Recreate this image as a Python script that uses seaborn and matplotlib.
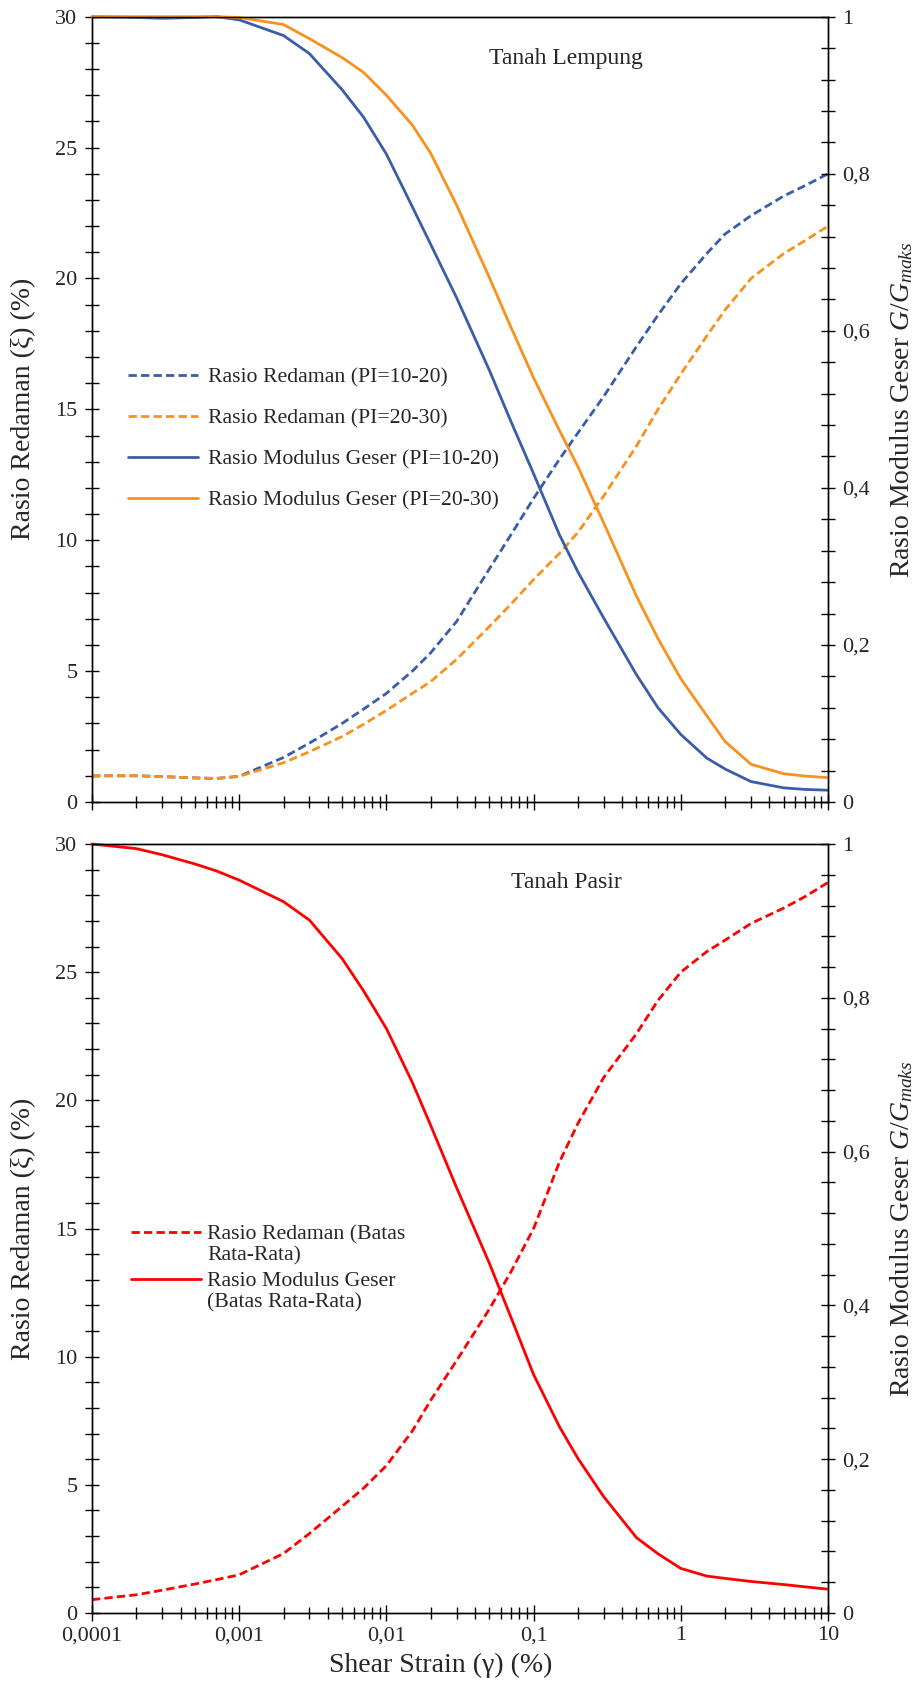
import numpy as np
import pandas as pd
import matplotlib
matplotlib.use("Agg")
import matplotlib.pyplot as plt
import seaborn as sns
from matplotlib.ticker import MultipleLocator, LogLocator, NullFormatter, FuncFormatter, FixedLocator
from matplotlib.legend_handler import HandlerLine2D

# ---------------- data ----------------
strain = [0.0001, 0.0002, 0.0003, 0.0005, 0.0007, 0.001, 0.002, 0.003, 0.005, 0.007,
          0.01, 0.015, 0.02, 0.03, 0.05, 0.07, 0.1, 0.15, 0.2, 0.3,
          0.5, 0.7, 1, 1.5, 2, 3, 5, 7, 10]

# Tanah Lempung (clay)
clay_damping_pi10_20 = [1.0, 1.0, 0.97, 0.92, 0.9, 0.98, 1.7, 2.25, 3.0, 3.55,
                        4.15, 5.0, 5.7, 6.9, 8.9, 10.2, 11.6, 13.1, 14.1, 15.5,
                        17.4, 18.6, 19.8, 20.95, 21.7, 22.4, 23.15, 23.55, 24.0]
clay_damping_pi20_30 = [1.0, 1.0, 0.97, 0.92, 0.9, 0.98, 1.5, 1.92, 2.5, 2.97,
                        3.5, 4.15, 4.6, 5.45, 6.7, 7.55, 8.5, 9.5, 10.3, 11.7,
                        13.6, 15.0, 16.35, 17.8, 18.8, 20.0, 20.95, 21.45, 22.0]
clay_modulus_pi10_20 = [1.0, 0.999, 0.998, 0.999, 1.0, 0.996, 0.976, 0.953, 0.907, 0.872,
                        0.825, 0.758, 0.71, 0.642, 0.55, 0.485, 0.418, 0.34, 0.293, 0.234,
                        0.162, 0.12, 0.086, 0.056, 0.042, 0.026, 0.018, 0.016, 0.015]
clay_modulus_pi20_30 = [1.0, 1.0, 1.0, 1.0, 1.0, 0.999, 0.99, 0.972, 0.948, 0.929,
                        0.90, 0.862, 0.826, 0.76, 0.668, 0.605, 0.54, 0.473, 0.427, 0.355,
                        0.262, 0.208, 0.157, 0.11, 0.077, 0.048, 0.036, 0.033, 0.031]

# Tanah Pasir (sand)
sand_damping_avg = [0.52, 0.71, 0.89, 1.13, 1.3, 1.49, 2.32, 3.1, 4.16, 4.87,
                    5.75, 7.1, 8.3, 9.85, 11.85, 13.3, 15.0, 17.6, 19.1, 20.9,
                    22.6, 23.9, 25.0, 25.8, 26.25, 26.9, 27.5, 27.95, 28.5]
sand_modulus_avg = [1.0, 0.994, 0.986, 0.974, 0.965, 0.953, 0.925, 0.901, 0.851, 0.809,
                    0.76, 0.69, 0.634, 0.553, 0.455, 0.385, 0.31, 0.242, 0.201, 0.151,
                    0.098, 0.077, 0.058, 0.048, 0.045, 0.041, 0.037, 0.034, 0.031]

x_tick_values = [0.0001, 0.001, 0.01, 0.1, 1, 10]

clay = pd.DataFrame({"strain": strain,
                     "d1": clay_damping_pi10_20, "d2": clay_damping_pi20_30,
                     "g1": clay_modulus_pi10_20, "g2": clay_modulus_pi20_30})
sand = pd.DataFrame({"strain": strain, "d": sand_damping_avg, "g": sand_modulus_avg})

# ---------------- style ----------------
sns.set_style("ticks")
plt.rcParams['font.family'] = ['Liberation Serif', 'DejaVu Serif']
plt.rcParams['mathtext.fontset'] = 'custom'
plt.rcParams['mathtext.rm'] = 'Liberation Serif'
plt.rcParams['mathtext.it'] = 'Liberation Serif:italic'
plt.rcParams['axes.edgecolor'] = 'black'
plt.rcParams['axes.linewidth'] = 1.0

BLUE = "#3A5DA8"
ORANGE = "#F8911E"
RED = "#FF0000"
LW = 2.0
DASH = (0, (3, 1.5))
LEG_FS = 15.7

fig = plt.figure(figsize=(9.22, 16.88), dpi=100)
L, W = 92 / 922, 736 / 922
ax1 = fig.add_axes([L, 1 - 802 / 1688, W, (802 - 16.7) / 1688])
ax2 = fig.add_axes([L, 1 - 1613 / 1688, W, 769 / 1688])

comma = FuncFormatter(lambda v, _: ('%g' % round(v, 6)).replace('.', ','))


def style_axes(ax, axr, show_xlabels):
    ax.set_xscale('log')
    ax.set_xlim(1e-4, 10)
    ax.set_ylim(0, 30)
    axr.set_ylim(0, 1)
    ax.xaxis.set_major_locator(FixedLocator(x_tick_values))
    ax.xaxis.set_minor_locator(LogLocator(base=10, subs=np.arange(2, 10), numticks=100))
    ax.xaxis.set_minor_formatter(NullFormatter())
    ax.xaxis.set_major_formatter(comma)
    ax.yaxis.set_major_locator(MultipleLocator(5))
    ax.yaxis.set_minor_locator(MultipleLocator(1))
    ax.yaxis.set_major_formatter(comma)
    axr.yaxis.set_major_locator(MultipleLocator(0.2))
    axr.yaxis.set_minor_locator(MultipleLocator(0.04))
    axr.yaxis.set_major_formatter(comma)
    ax.tick_params(axis='x', which='major', direction='inout', length=11, width=1,
                   color='black', labelsize=16, pad=4, bottom=True, top=False,
                   labelbottom=show_xlabels)
    ax.tick_params(axis='x', which='minor', direction='inout', length=8, width=1,
                   color='black', bottom=True, top=False)
    ax.tick_params(axis='y', which='both', direction='inout', length=10, width=1,
                   color='black', labelsize=16, pad=5.5, left=True, right=False)
    axr.tick_params(axis='y', which='both', direction='inout', length=10, width=1,
                    color='black', labelsize=16, pad=5.5, right=True, left=False)
    for sp in list(ax.spines.values()) + list(axr.spines.values()):
        sp.set_visible(True)
        sp.set_color('black')
    ax.set_ylabel("Rasio Redaman (ξ) (%)", fontsize=20)
    ax.yaxis.set_label_coords(-0.076, 0.5)
    axr.set_ylabel("Rasio Modulus Geser $G/G_{maks}$", fontsize=20)
    axr.yaxis.set_label_coords(1.0815, 0.5)


def draw(ax, df, col, color, ls):
    sns.lineplot(data=df, x="strain", y=col, ax=ax, color=color, linewidth=LW,
                 linestyle=ls, errorbar=None, legend=False, clip_on=False)
    return ax.lines[-1]


class TopLineHandler(HandlerLine2D):
    def create_artists(self, legend, orig_handle, xdescent, ydescent, width, height,
                       fontsize, trans):
        return super().create_artists(legend, orig_handle, xdescent,
                                      ydescent - 1.15 * fontsize, width, height,
                                      fontsize, trans)


# ---------------- top panel: Tanah Lempung ----------------
ax1r = ax1.twinx()
h1 = draw(ax1, clay, "d1", BLUE, DASH)
h2 = draw(ax1, clay, "d2", ORANGE, DASH)
h3 = draw(ax1r, clay, "g1", BLUE, '-')
h4 = draw(ax1r, clay, "g2", ORANGE, '-')
style_axes(ax1, ax1r, False)
ax1.set_xlabel("")
ax1.text(0.166, 28.4, "Tanah Lempung", fontsize=17, ha='center', va='center')
ax1r.legend([h1, h2, h3, h4],
            ["Rasio Redaman (PI=10-20)", "Rasio Redaman (PI=20-30)",
             "Rasio Modulus Geser (PI=10-20)", "Rasio Modulus Geser (PI=20-30)"],
            loc='upper left', bbox_to_anchor=(0.049, 0.554), frameon=False,
            fontsize=LEG_FS, handlelength=3.2, handletextpad=0.45, labelspacing=0.95,
            borderpad=0, borderaxespad=0)

# ---------------- bottom panel: Tanah Pasir ----------------
ax2r = ax2.twinx()
s1 = draw(ax2, sand, "d", RED, DASH)
s2 = draw(ax2r, sand, "g", RED, '-')
style_axes(ax2, ax2r, True)
ax2.set_xlabel("Shear Strain (γ) (%)", fontsize=20)
ax2.xaxis.set_label_coords(0.474, -0.052)
ax2.text(0.166, 28.5, "Tanah Pasir", fontsize=17, ha='center', va='center')
leg2 = ax2r.legend([s1, s2],
                   ["Rasio Redaman (Batas\nRata-Rata)", "Rasio Modulus Geser\n(Batas Rata-Rata)"],
                   loc='upper left', bbox_to_anchor=(0.053, 0.5045), frameon=False,
                   fontsize=LEG_FS, handlelength=3.2, handletextpad=0.3, labelspacing=0.33,
                   borderpad=0, borderaxespad=0,
                   handler_map={matplotlib.lines.Line2D: TopLineHandler()})
for t in leg2.get_texts():
    t.set_linespacing(1.12)

fig.savefig("out.png", dpi=100)
